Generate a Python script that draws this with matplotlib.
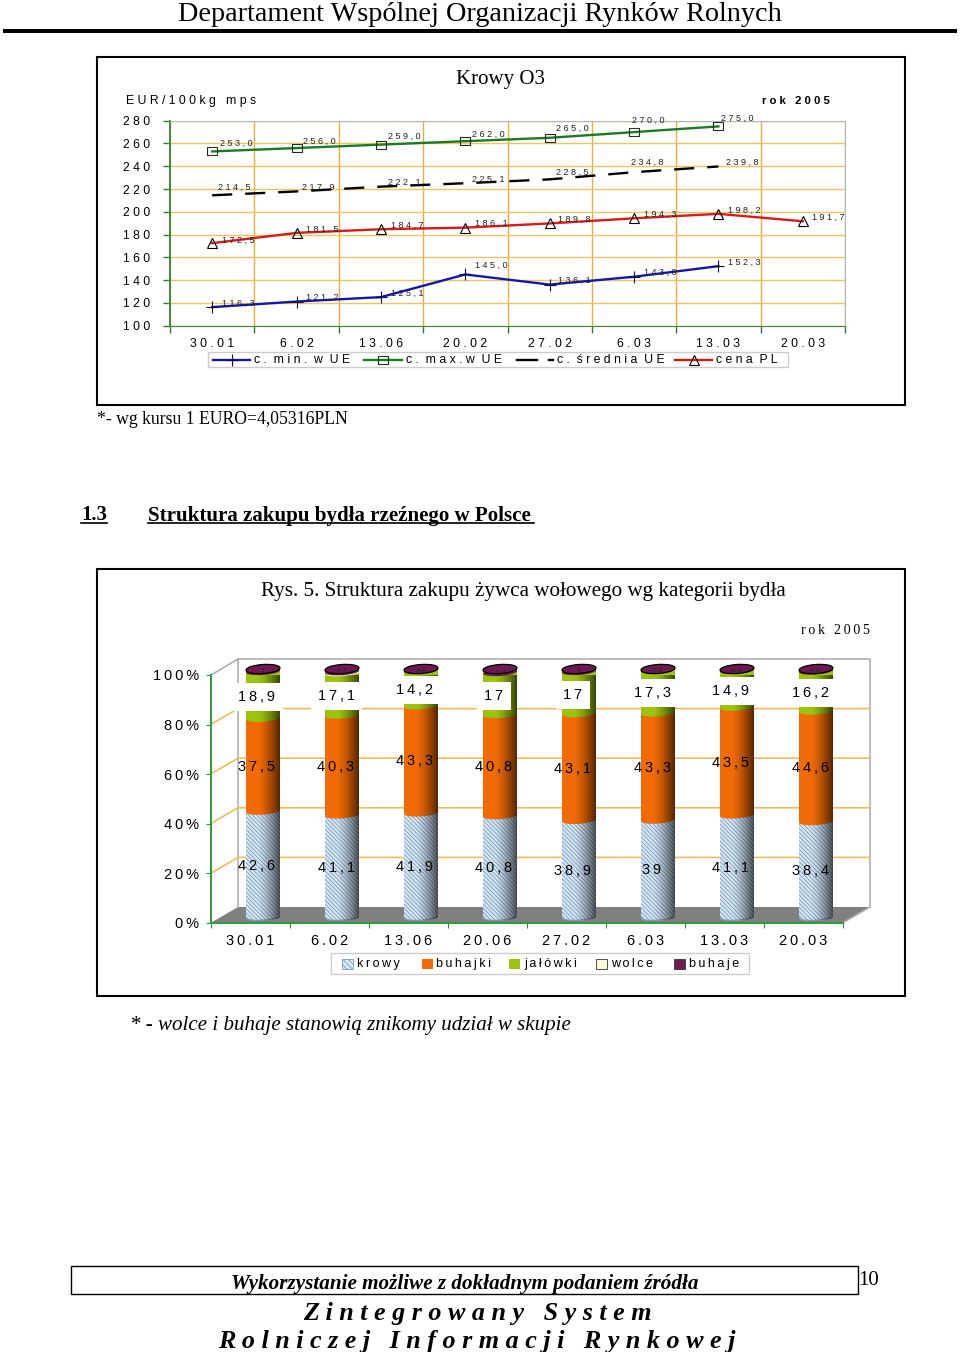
import numpy as np
import matplotlib
matplotlib.use('Agg')
import matplotlib.pyplot as plt
from matplotlib.patches import Rectangle, Polygon, Ellipse
from matplotlib.path import Path
from matplotlib.lines import Line2D
from matplotlib.transforms import Affine2D

plt.rcParams['font.family'] = ['Liberation Sans', 'DejaVu Sans']
plt.rcParams['hatch.linewidth'] = 0.6

W, H = 960, 1352
SERIF = ['Liberation Serif', 'DejaVu Serif']

# line chart data
dates_top = ['30.01', '6.02', '13.06', '20.02', '27.02', '6.03', '13.03', '20.03']
price_min = [116.3, 121.2, 125.1, 145.0, 136.1, 143.0, 152.3, None]
price_max = [253.0, 256.0, 259.0, 262.0, 265.0, 270.0, 275.0, None]
price_avg = [214.5, 217.9, 222.1, 225.1, 228.5, 234.8, 239.8, None]
price_pl = [172.5, 181.5, 184.7, 186.1, 189.8, 194.3, 198.2, 191.7]
yticks_top = [100, 120, 140, 160, 180, 200, 220, 240, 260, 280]

# label offsets in pixels from the point
off_min = [(26, 4), (26, 4), (26, 4), (26, 9), (25, 4), (26, 4), (26, 4), None]
off_max = [(24, 8), (23, 7), (23, 8), (23, 7), (23, 9), (14, 12), (19, 8), None]
off_avg = [(22, 8), (22, 4), (23, 4), (23, 4), (23, 7), (13, 10), (24, 4), None]
off_pl = [(26, 3), (26, 4), (26, 4), (26, 4), (25, 4), (26, 4), (26, 4), (25, 4)]

# stacked bars data
dates_bar = ['30.01', '6.02', '13.06', '20.06', '27.02', '6.03', '13.03', '20.03']
krowy = [42.6, 41.1, 41.9, 40.8, 38.9, 39, 41.1, 38.4]
buhajki = [37.5, 40.3, 43.3, 40.8, 43.1, 43.3, 43.5, 44.6]
jalowki = [18.9, 17.1, 14.2, 17, 17, 17.3, 14.9, 16.2]
wolce = [0, 0.4, 0, 0, 0, 0, 0, 0]
buhaje = [1, 1.1, 0.6, 1.4, 1, 0.4, 0.5, 0.8]
yticks_bar = [0, 20, 40, 60, 80, 100]


def sp(s, sep=' '):
    # the original has wide letter spacing
    return sep.join(s)


def spw(s, sep=' ', word='   '):
    return word.join(sp(w, sep) for w in s.split(' '))


def comma(v):
    return ('%g' % v).replace('.', ',')


def px_axes(fig, l, t, r, b):
    return fig.add_axes([l / W, 1 - b / H, (r - l) / W, (b - t) / H])


fig = plt.figure(figsize=(W / 100, H / 100), dpi=100)

# page layer in pixels
pg = fig.add_axes([0, 0, 1, 1])
pg.set_xlim(0, W)
pg.set_ylim(H, 0)
pg.axis('off')


def txt(x, y, s, size, ha='left', **kw):
    if 'family' not in kw:
        # serif text sits a little high with va center
        kw['family'] = SERIF
        y = y + 2.5
    return pg.text(x, y, s, fontsize=size, ha=ha, va='center', color='black', **kw)


txt(480, 12, 'Departament Wspólnej Organizacji Rynków Rolnych', 20.3, ha='center')
pg.add_patch(Rectangle((3, 29), 954, 4, fc='black', ec='none'))
pg.add_patch(Rectangle((97, 57), 808, 348, fc='white', ec='black', lw=1.5))
pg.add_patch(Rectangle((97, 569), 808, 427, fc='white', ec='black', lw=1.5))
txt(501, 77, 'Krowy O3', 15, ha='center')
txt(97, 417, '*- wg kursu 1 EURO=4,05316PLN', 12.7)

txt(81, 513, '1.3', 15, weight='bold')
pg.plot([81, 107], [523, 523], color='black', lw=1.2)
txt(148, 513, 'Struktura zakupu bydła rzeźnego w Polsce', 15.15, weight='bold')
pg.plot([148, 534], [523, 523], color='black', lw=1.2)

txt(261, 589, 'Rys. 5. Struktura zakupu żywca wołowego wg kategorii bydła', 15.2)
txt(801, 628, sp('rok 2005', '\u2009'), 10)
txt(130, 1023, '* - wolce i buhaje stanowią znikomy udział w skupie', 15.1, style='italic')

pg.add_patch(Rectangle((71, 1266), 787, 28, fc='white', ec='black', lw=1))
txt(465, 1282, 'Wykorzystanie możliwe z dokładnym podaniem źródła', 15.25, ha='center',
    weight='bold', style='italic')
txt(869, 1278, '10', 15, ha='center')
txt(477, 1311, spw('Zintegrowany System'), 18.8, ha='center', weight='bold', style='italic')
txt(477, 1339, spw('Rolniczej Informacji Rynkowej'), 18.8, ha='center', weight='bold', style='italic')

# top chart texts
txt(126, 101, spw('EUR/100kg mps'), 8.8, family='Liberation Sans')
txt(762, 101, spw('rok 2005'), 8.1, weight='bold', family='Liberation Sans')

# ---- line chart
ax = px_axes(fig, 170, 120.7, 845, 325.7)
ax.patch.set_alpha(0)
xpos = np.arange(len(dates_top)) + 0.5
ax.set_xlim(0, 8)
ax.set_ylim(100, 280)
ax.set_yticks(yticks_top)
ax.set_yticklabels([sp(str(v)) for v in yticks_top], fontsize=8.7)
ax.set_xticks(np.arange(9))
ax.set_xticklabels([])
ax.set_xticks(xpos, minor=True)
ax.set_xticklabels([sp(d) for d in dates_top], minor=True, fontsize=8.7)
ax.tick_params(axis='x', which='minor', length=0, pad=9)
ax.tick_params(axis='both', which='major', length=5, color='#2f7a3a', width=1)
ax.tick_params(axis='y', pad=9)
ax.grid(True, axis='y', color='#e9c565', lw=1)
ax.grid(True, axis='x', color='#e8ae3c', lw=1)
ax.set_axisbelow(True)
ax.spines['left'].set_color('#3f8a45')
ax.spines['left'].set_linewidth(1.4)
ax.spines['bottom'].set_color('#3f8a45')
ax.spines['top'].set_color('#b5b5b5')
ax.spines['right'].set_color('#b5b5b5')

wide_box = Path([(-1, -0.7), (1, -0.7), (1, 0.7), (-1, 0.7), (-1, -0.7)], closed=True)
styles = [
    (price_min, off_min, dict(color='#1616a8', lw=1.7, marker='+', ms=8, mec='#101040', mew=0.8)),
    (price_max, off_max, dict(color='#1c7a22', lw=1.7, marker=wide_box, ms=7.5, mfc='none', mec='#203020', mew=0.8)),
    (price_avg, off_avg, dict(color='black', lw=1.7, dashes=(8.5, 5.5))),
    (price_pl, off_pl, dict(color='#d41c1c', lw=1.7, marker='^', ms=7, mfc='none', mec='black', mew=0.8)),
]
for vals, offs, st in styles:
    n = sum(v is not None for v in vals)
    ax.plot(xpos[:n], vals[:n], clip_on=False, zorder=3, **st)
    for x, v, o in zip(xpos[:n], vals[:n], offs[:n]):
        ax.annotate(sp('%.1f' % v).replace('.', ','), (x, v), xytext=(o[0] * 0.72, o[1] * 0.72),
                    textcoords='offset points', fontsize=6.5, ha='center', va='center',
                    color='#222222', zorder=4)

# top legend
pg.add_patch(Rectangle((208, 352), 580, 15, fc='white', ec='#cccccc', lw=1))
leg_y = 360
leg_top = [
    (213, 250, 254, 'c. min. w UE', styles[0][2]),
    (364, 402, 406, 'c. max.w UE', styles[1][2]),
    (675, 712, 716, 'cena PL', styles[3][2]),
]
for x0, x1, xt, lab, st in leg_top:
    pg.add_line(Line2D([x0, x1], [leg_y, leg_y], color=st['color'], lw=st['lw']))
    m = Line2D([(x0 + x1) / 2], [leg_y], linestyle='none',
               **{k: v for k, v in st.items() if k not in ('color', 'lw')})
    pg.add_line(m)
    txt(xt, leg_y, spw(lab, ' ', '  '), 8.8, family='Liberation Sans')
pg.add_line(Line2D([517, 537], [leg_y, leg_y], color='black', lw=1.7))
pg.add_line(Line2D([549, 553], [leg_y, leg_y], color='black', lw=1.7))
txt(557, leg_y, spw('c. średnia UE', ' ', '  '), 8.8, family='Liberation Sans')

# ---- bar chart, front plane of the fake 3d box
bx = px_axes(fig, 211, 675, 843, 922.7)
bx.patch.set_alpha(0)
bx.set_xlim(0, 8)
bx.set_ylim(0, 100)
bpos = np.arange(len(dates_bar)) + 0.5
bw = 34 / 79.0
shift = Affine2D().translate(12.5, 6)
trans = bx.transData + shift
lab_trans = trans + Affine2D().translate(0, -2)

# back wall and floor
pg.add_patch(Polygon([(211, 922.7), (238, 907), (870, 907), (843, 922.7)], fc='#808080', ec='none'))
pg.plot([211, 238, 870, 870, 843], [675, 659, 659, 907, 922.7], color='#b0b0b0', lw=1.2)
pg.plot([238, 238], [659, 907], color='#b0b0b0', lw=1.2)
for v in yticks_bar[1:-1]:
    yb = 907 - 2.48 * v
    pg.plot([211, 238, 870], [yb + 15.7, yb, yb], color='#e9bd62', lw=1.2)

bx.set_yticks(yticks_bar)
bx.set_yticklabels([sp('%d%%' % v, '\u2009') for v in yticks_bar], fontsize=10.5)
bx.set_xticks(np.arange(9))
bx.set_xticklabels([])
bx.set_xticks(bpos, minor=True)
bx.set_xticklabels([sp(d, '\u2009') for d in dates_bar], minor=True, fontsize=10.5)
bx.tick_params(axis='x', which='minor', length=0, pad=8)
bx.tick_params(axis='both', which='major', length=3.5, color='#2f8a3a')
bx.tick_params(axis='y', pad=5)
for s in ('top', 'right'):
    bx.spines[s].set_visible(False)
bx.spines['left'].set_color('#2f9a3a')
bx.spines['bottom'].set_color('#2f9a3a')
bx.spines['left'].set_linewidth(1.4)
bx.spines['bottom'].set_linewidth(1.4)

seg_names = ['krowy', 'buhajki', 'jałówki', 'wolce', 'buhaje']
seg_vals = [krowy, buhajki, jalowki, wolce, buhaje]
seg_col = ['#d6e8f6', '#f06a06', '#9cc40e', '#fbf8d8', '#6e1a52']
hatch_col = '#7f9ab8'


def cap(x, y, color, z, edge='none', hatch=None, height=7):
    px_xy = trans.transform((x, y))
    e = Ellipse((0, 0), 34, height, fc=color, ec=edge, lw=0.9 if edge != 'none' else 0,
                hatch=hatch, zorder=z, clip_on=False,
                transform=Affine2D().rotate_deg(4).translate(*px_xy))
    bx.add_patch(e)
    return e


shade = np.zeros((1, 64, 4))
t = np.linspace(0, 1, 64)
shade[0, :, 3] = np.clip((t - 0.35) / 0.65, 0, 1) ** 1.4 * 0.65

for i, x in enumerate(bpos):
    bottom = 0
    # base of the cylinder
    cap(x, 0, seg_col[0], 2, edge=hatch_col, hatch='\\\\\\\\\\\\\\\\')
    for s, vals in enumerate(seg_vals):
        v = vals[i]
        if v <= 0:
            continue
        kw = dict(hatch='\\\\\\\\\\\\\\\\', edgecolor=hatch_col, linewidth=0) if s == 0 else dict()
        bx.bar(x, v, bw, bottom=bottom, color=seg_col[s], transform=trans, zorder=3, clip_on=False, **kw)
        if s > 0:
            cap(x, bottom, seg_col[s], 3.1)
        bottom += v
    # round shading, clipped to the body of the cylinder
    base_xy = trans.transform((x, 0))
    top_xy = trans.transform((x, 100))
    body = Path.make_compound_path(
        Path.unit_rectangle().transformed(
            Affine2D().scale(34, top_xy[1] - base_xy[1]).translate(base_xy[0] - 17, base_xy[1])),
        Path.unit_circle().transformed(Affine2D().scale(17, 3.5).translate(*base_xy)))
    im = bx.imshow(shade, extent=(x - bw / 2, x + bw / 2, -2, 100), aspect='auto',
                   transform=trans, zorder=3.5, interpolation='bilinear')
    im.set_clip_path(body, Affine2D())
    cap(x, 100, seg_col[4], 4, edge='black', height=9)

    # value labels sit a bit left of the bar centre
    lx = x - 6 / 79.0
    bx.text(lx, krowy[i] / 2, sp(comma(krowy[i]), '\u2009'), fontsize=10.5, ha='center', va='center',
            transform=lab_trans, zorder=5, clip_on=False)
    bx.text(lx, krowy[i] + buhajki[i] / 2, sp(comma(buhajki[i]), '\u2009'), fontsize=10.5, ha='center',
            va='center', transform=lab_trans, zorder=5, clip_on=False)
    bx.text(lx, krowy[i] + buhajki[i] + jalowki[i] / 2, sp(comma(jalowki[i]), '\u2009'), fontsize=10.5,
            ha='center', va='center', transform=lab_trans, zorder=5, clip_on=False,
            bbox=dict(fc='white', ec='none', pad=5))
    bx.text(x, 100 - buhaje[i] / 2 - 0.6, comma(buhaje[i]), fontsize=6, ha='center', va='center',
            color='#222222', transform=trans, zorder=5, clip_on=False)
bx.set_xlim(0, 8)
bx.set_ylim(0, 100)

# bottom legend
pg.add_patch(Rectangle((331, 953), 418, 21, fc='white', ec='#cccccc', lw=1))
leg_x = [342, 421.5, 509, 596, 674]
for name, col, lx in zip(seg_names, seg_col, leg_x):
    hatched = name == 'krowy'
    pg.add_patch(Rectangle((lx, 959), 11, 10, fc=col,
                           ec=hatch_col if hatched else ('#333333' if name in ('wolce', 'buhaje') else 'none'),
                           lw=0.6, hatch='\\\\\\\\\\\\' if hatched else None))
    txt(lx + 15, 964, sp(name, '\u2009'), 9, family='Liberation Sans')

fig.savefig('out.png', dpi=100)
